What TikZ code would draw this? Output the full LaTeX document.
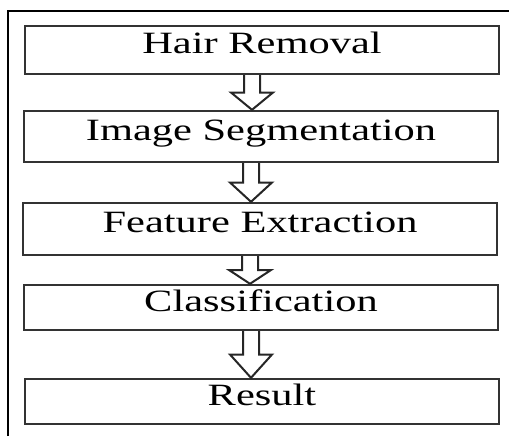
\documentclass[tikz,border=0pt]{standalone}
\usepackage{fontspec}
\setmainfont{Liberation Serif}[FakeStretch=1.37]
\usetikzlibrary{calc}

\tikzset{
	stage/.style={draw=black!80, line width=1.2pt, minimum width=237pt, text height=0.7em, text depth=0.35em, font=\fontsize{15.5}{18}\selectfont},
	hollow/.style={draw=black!85, line width=1pt, line join=miter, fill=white},
	frame/.style={draw=black, line width=1pt}
}

\newcommand{\hollowarrow}[2]{
	\coordinate (top) at ($(#1.south)+(-10,0)$);
	\coordinate (tip) at (top |- #2.north);
	\coordinate (mid) at ($(top)!0.5!(tip)$);
	\draw[hollow] ($(top)+(-8,0)$) -- ($(mid)+(-8,0)$) -- ($(mid)+(-21,0)$) -- (tip) -- ($(mid)+(21,0)$) -- ($(mid)+(8,0)$) -- ($(top)+(8,0)$);
}

\begin{document}
	\begin{tikzpicture}[x=0.5pt, y=-0.5pt]
		\useasboundingbox (0,0) rectangle (509,436);
		\draw[frame] (8,436) -- (8,11) -- (509,11);
		
		\node[stage, minimum height=24pt] (hair) at (262,50) {Hair Removal};
		\node[stage, minimum height=25.5pt] (seg) at (261,136.5) {Image Segmentation};
		\node[stage, minimum height=26pt] (feat) at (260,229) {Feature Extraction};
		\node[stage, minimum height=22.5pt] (cls) at (261,307.5) {Classification};
		\node[stage, minimum height=22.5pt] (res) at (262,401.5) {Result};
		
		\hollowarrow{hair}{seg}
		\hollowarrow{seg}{feat}
		\hollowarrow{feat}{cls}
		\hollowarrow{cls}{res}
	\end{tikzpicture}
\end{document}
